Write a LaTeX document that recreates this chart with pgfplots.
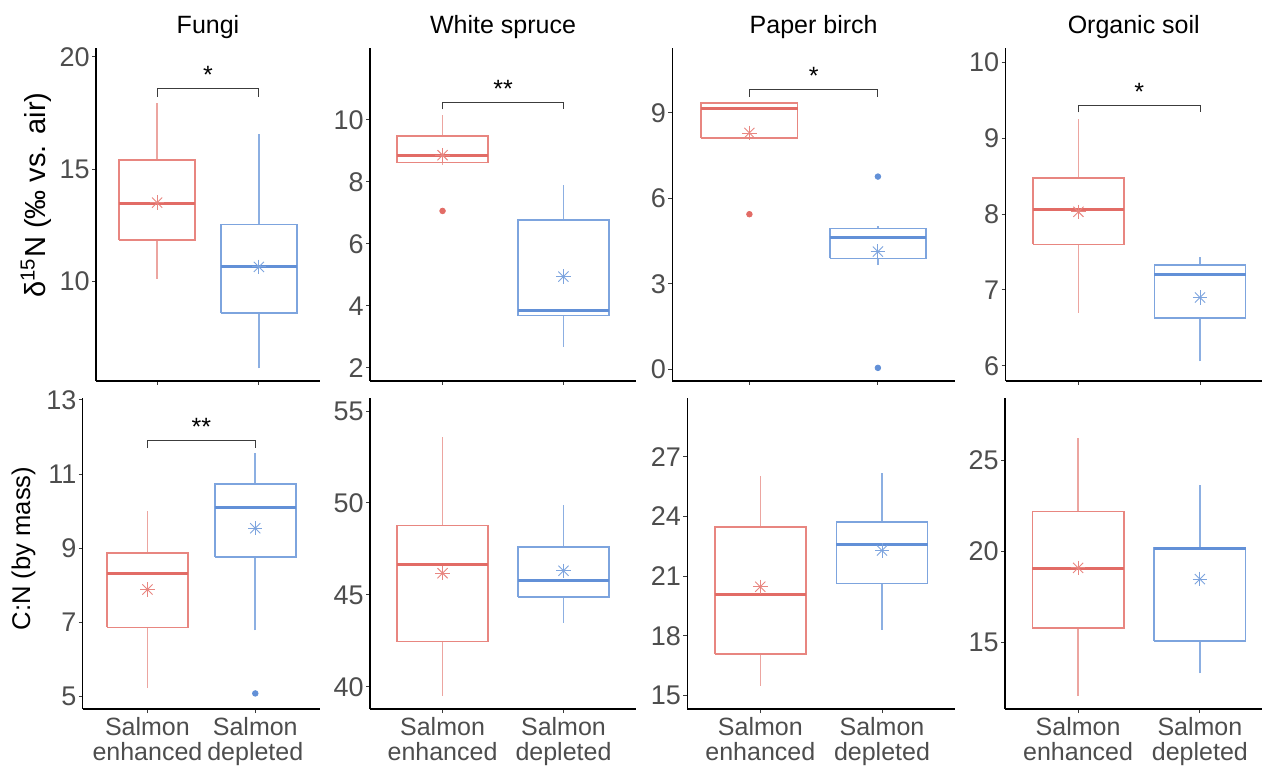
\documentclass[border=0pt]{standalone}
\usepackage{pgfplots}
\pgfplotsset{compat=1.18}
\usepackage{fontspec}
\setmainfont{Liberation Sans}

\definecolor{enhb}{RGB}{232,134,128}
\definecolor{enhw}{RGB}{236,165,160}
\definecolor{enhm}{RGB}{226,108,102}
\definecolor{depb}{RGB}{125,164,222}
\definecolor{depw}{RGB}{140,175,226}
\definecolor{depm}{RGB}{98,144,215}
\definecolor{tickgray}{RGB}{77,77,77}
\definecolor{brk}{RGB}{60,60,60}

\newcommand\tickfont{\fontsize{13.5}{14}\selectfont}
\newcommand\titlefont{\fontsize{12.5}{13}\selectfont}
\newcommand\labfont{\fontsize{12.5}{12.5}\selectfont}
\newcommand\starfont{\fontsize{12.5}{13}\selectfont}

% one box: left, centre, right, lower whisker, Q1, median, Q3, upper whisker, colour prefix
\newcommand\bx[9]{%
  \addplot[draw=#9w, line width=0.8pt] coordinates {(#2,#4)(#2,#5)};
  \addplot[draw=#9w, line width=0.8pt] coordinates {(#2,#7)(#2,#8)};
  \addplot[draw=#9b, line width=0.85pt] coordinates {(#1,#5)(#3,#5)(#3,#7)(#1,#7)(#1,#5)};
  \addplot[draw=#9m, line width=1.5pt] coordinates {(#1,#6)(#3,#6)};}
% mean marker (8-arm star)
\newcommand\mn[3]{%
  \addplot[only marks, mark=+, mark size=3.6pt, color=#3b, line width=0.45pt] coordinates {(#1,#2)};
  \addplot[only marks, mark=x, mark size=3.6pt, color=#3b, line width=0.45pt] coordinates {(#1,#2)};}
% significance bracket
\newcommand\sig[3]{%
  \addplot[line width=0.5pt, color=brk] coordinates {(1,#2)(1,#1)(2,#1)(2,#2)};
  \node[anchor=base, yshift=2.5pt, font=\starfont, inner sep=0pt] at (axis cs:1.5,#1) {#3};}

\pgfplotsset{
  panel/.style={scale only axis, anchor=south west, xmin=0.4, xmax=2.6, xtick={1,2},
    axis x line*=bottom, axis y line*=left, axis line style={-, black, line width=0.6pt},
    tick align=outside, major tick length=2pt, tick style={brk, line width=0.5pt},
    yticklabel style={font=\tickfont, text=tickgray, inner sep=1pt},
    xticklabel style={font=\labfont, text=tickgray, align=center, inner sep=2pt},
    /pgf/number format/assume math mode=true,
    title style={font=\titlefont, anchor=base, at={(0.5,1)}, yshift=1pt}},
  toprow/.style={panel, height=166.5pt, xticklabels={\mbox{},\mbox{}}},
  botrow/.style={panel, height=155.5pt, xticklabels={{Salmon\\enhanced},{Salmon\\depleted}}},
}

\begin{document}
\begin{tikzpicture}
% ---- row 1: delta 15N ----
\begin{axis}[toprow, at={(48pt,192pt)}, width=112pt, title={Fungi},
  ymin=5.54, ymax=20.4, ytick={10,15,20}]
\bx{0.625}{1}{1.375}{10.1}{11.84}{13.45}{15.39}{17.95}{enh}
\bx{1.625}{2}{2.375}{6.1}{8.56}{10.66}{12.53}{16.56}{dep}
\mn{1}{13.5}{enh}
\mn{2}{10.63}{dep}
\sig{18.6}{18.23}{*}
\end{axis}

\begin{axis}[toprow, at={(185pt,192pt)}, width=133pt, title={White spruce},
  ymin=1.57, ymax=12.32, ytick={2,4,6,8,10}]
\bx{0.625}{1}{1.375}{8.55}{8.62}{8.86}{9.48}{10.16}{enh}
\bx{1.625}{2}{2.375}{2.68}{3.68}{3.84}{6.76}{7.89}{dep}
\addplot[only marks, mark=*, mark size=1.4pt, color=enhm] coordinates {(1,7.06)};
\mn{1}{8.86}{enh}
\mn{2}{4.94}{dep}
\sig{10.57}{10.34}{**}
\end{axis}

\begin{axis}[toprow, at={(336.15pt,192pt)}, width=141.35pt, title={Paper birch},
  ymin=-0.41, ymax=11.27, ytick={0,3,6,9}]
\bx{0.625}{1}{1.375}{8.11}{8.11}{9.16}{9.35}{9.35}{enh}
\bx{1.625}{2}{2.375}{3.65}{3.89}{4.63}{4.94}{5.03}{dep}
\addplot[only marks, mark=*, mark size=1.4pt, color=enhm] coordinates {(1,5.44)};
\addplot[only marks, mark=*, mark size=1.4pt, color=depm] coordinates {(2,6.76)(2,0.05)};
\mn{1}{8.29}{enh}
\mn{2}{4.13}{dep}
\sig{9.83}{9.56}{*}
\end{axis}

\begin{axis}[toprow, at={(502.75pt,192pt)}, width=128.25pt, xmax=2.51, title={Organic soil},
  ymin=5.80, ymax=10.19, ytick={6,7,8,9,10}]
\bx{0.625}{1}{1.375}{6.70}{7.60}{8.06}{8.48}{9.26}{enh}
\bx{1.625}{2}{2.375}{6.06}{6.63}{7.21}{7.33}{7.44}{dep}
\mn{1}{8.03}{enh}
\mn{2}{6.90}{dep}
\sig{9.43}{9.34}{*}
\end{axis}

% ---- row 2: C:N ----
\begin{axis}[botrow, at={(41.35pt,28pt)}, width=118.65pt,
  ymin=4.67, ymax=13.05, ytick={5,7,9,11,13}]
\bx{0.625}{1}{1.375}{5.23}{6.87}{8.33}{8.87}{10.01}{enh}
\bx{1.625}{2}{2.375}{6.79}{8.76}{10.1}{10.73}{11.57}{dep}
\addplot[only marks, mark=*, mark size=1.4pt, color=depm] coordinates {(2,5.09)};
\mn{1}{7.89}{enh}
\mn{2}{9.54}{dep}
\sig{11.9}{11.7}{**}
\end{axis}

\begin{axis}[botrow, at={(185pt,28pt)}, width=133pt,
  ymin=38.79, ymax=55.71, ytick={40,45,50,55}]
\bx{0.625}{1}{1.375}{39.51}{42.46}{46.67}{48.78}{53.57}{enh}
\bx{1.625}{2}{2.375}{43.49}{44.87}{45.78}{47.59}{49.9}{dep}
\mn{1}{46.18}{enh}
\mn{2}{46.31}{dep}
\end{axis}

\begin{axis}[botrow, at={(343.65pt,28pt)}, width=133.85pt,
  ymin=14.33, ymax=29.95, ytick={15,18,21,24,27}]
\bx{0.625}{1}{1.375}{15.49}{17.10}{20.10}{23.46}{26.05}{enh}
\bx{1.625}{2}{2.375}{18.30}{20.63}{22.59}{23.71}{26.17}{dep}
\mn{1}{20.47}{enh}
\mn{2}{22.29}{dep}
\end{axis}

\begin{axis}[botrow, at={(502.5pt,28pt)}, width=128.5pt, xmax=2.51,
  ymin=11.33, ymax=28.45, ytick={15,20,25}]
\bx{0.625}{1}{1.375}{12.06}{15.77}{19.05}{22.20}{26.27}{enh}
\bx{1.625}{2}{2.375}{13.29}{15.09}{20.15}{20.19}{23.66}{dep}
\mn{1}{19.1}{enh}
\mn{2}{18.48}{dep}
\end{axis}

% y axis titles
\node[rotate=90, anchor=base, font=\fontsize{14.5}{15}\selectfont] at (22.5pt,285pt) {δ\textsuperscript{15}N (‰ vs. air)};
\node[rotate=90, anchor=base, font=\fontsize{12.8}{13}\selectfont] at (15pt,108.25pt) {C:N (by mass)};

\pgfresetboundingbox
\useasboundingbox (0,0) rectangle (631pt,382.5pt);
\end{tikzpicture}
\end{document}
